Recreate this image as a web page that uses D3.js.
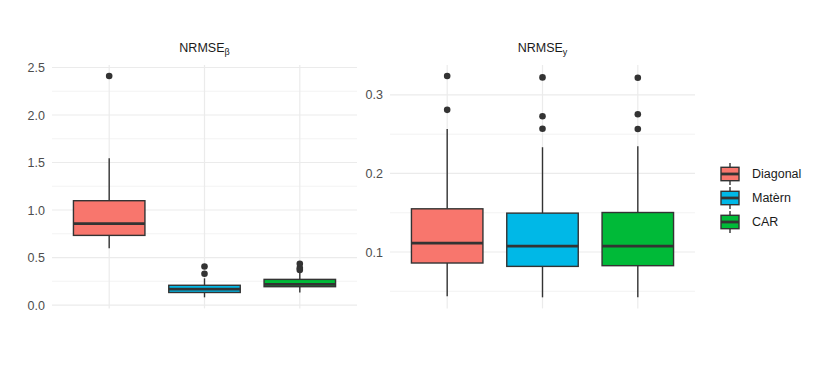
<!DOCTYPE html>
<html><head><meta charset="utf-8">
<script src="https://cdn.jsdelivr.net/npm/d3@7"></script>
<style>body{margin:0;background:#fff} text{font-family:"Liberation Sans",Arial,Helvetica,sans-serif}</style>
</head><body><svg id="c" width="817" height="368"></svg>
<script>
const categories = ["Diagonal", "Matèrn", "CAR"];
const colors = ["#F8766D", "#00B8E7", "#00BA38"];
// per category: [lower whisker, Q1, median, Q3, upper whisker]
const betaStats = [[0.597, 0.733, 0.857, 1.098, 1.544], [0.081, 0.132, 0.168, 0.208, 0.281], [0.132, 0.193, 0.217, 0.270, 0.338]];
const betaOutliers = [[2.41], [0.33, 0.405], [0.37, 0.39, 0.435]];
const yStats = [[0.0436, 0.0860, 0.1114, 0.1550, 0.2567], [0.0423, 0.0817, 0.1076, 0.1495, 0.2334], [0.0423, 0.0826, 0.1076, 0.1503, 0.2347]];
const yOutliers = [[0.281, 0.324], [0.257, 0.2728, 0.3223], [0.2567, 0.2754, 0.3219]];
const betaMajor = [0, 0.5, 1.0, 1.5, 2.0, 2.5];
const betaMinor = [0.25, 0.75, 1.25, 1.75, 2.25];
const yMajor = [0.1, 0.2, 0.3];
const yMinor = [0.05, 0.15, 0.25];

const svg = d3.select("#c");
const pTop = 65, pBottom = 308.4;
const FONT = '"Liberation Sans",Arial,Helvetica,sans-serif';

function panel(x0, x1, stats, outs, major, minor, fmt, title, sub) {
  const all = stats.flat().concat(outs.flat());
  const mn = d3.min(all), mx = d3.max(all), pad = (mx - mn) * 0.05;
  const y = d3.scaleLinear().domain([mn - pad, mx + pad]).range([pBottom, pTop]);
  const x = d3.scalePoint().domain(categories).range([x0, x1]).padding(0.6);
  const g = svg.append("g");
  // grid
  g.selectAll(".mn").data(minor).join("line").attr("x1", x0).attr("x2", x1)
    .attr("y1", d => y(d)).attr("y2", d => y(d)).attr("stroke", "#ebebeb").attr("stroke-width", 0.6);
  g.selectAll(".mj").data(major).join("line").attr("x1", x0).attr("x2", x1)
    .attr("y1", d => y(d)).attr("y2", d => y(d)).attr("stroke", "#ebebeb").attr("stroke-width", 1.2);
  g.selectAll(".vx").data(categories).join("line").attr("x1", d => x(d)).attr("x2", d => x(d))
    .attr("y1", pTop).attr("y2", pBottom).attr("stroke", "#ebebeb").attr("stroke-width", 1.2);
  // axis
  const ax = svg.append("g").attr("transform", `translate(${x0 - 7},0)`)
    .call(d3.axisLeft(y).tickValues(major).tickSize(0).tickPadding(0).tickFormat(fmt));
  ax.attr("font-family", FONT).attr("font-size", 12.5);
  ax.select(".domain").remove();
  ax.selectAll("text").attr("fill", "#4d4d4d");
  // boxes
  const bw = x.step() * 0.75;
  stats.forEach((s, i) => {
    const cx = x(categories[i]);
    const b = g.append("g");
    b.append("line").attr("x1", cx).attr("x2", cx).attr("y1", y(s[3])).attr("y2", y(s[4])).attr("stroke", "#333").attr("stroke-width", 1.4);
    b.append("line").attr("x1", cx).attr("x2", cx).attr("y1", y(s[0])).attr("y2", y(s[1])).attr("stroke", "#333").attr("stroke-width", 1.4);
    b.append("rect").attr("x", cx - bw / 2).attr("width", bw).attr("y", y(s[3])).attr("height", y(s[1]) - y(s[3]))
      .attr("fill", colors[i]).attr("stroke", "#333").attr("stroke-width", 1.4);
    b.append("line").attr("x1", cx - bw / 2).attr("x2", cx + bw / 2).attr("y1", y(s[2])).attr("y2", y(s[2])).attr("stroke", "#333").attr("stroke-width", 2.8);
    b.selectAll("circle").data(outs[i]).join("circle").attr("cx", cx).attr("cy", d => y(d)).attr("r", 3.3).attr("fill", "#333");
  });
  // title
  const t = svg.append("text").attr("x", (x0 + x1) / 2).attr("y", 52).attr("text-anchor", "middle")
    .attr("fill", "#1a1a1a").attr("font-family", FONT).attr("font-size", 12.5);
  t.append("tspan").text(title);
  t.append("tspan").attr("dy", 2.5).attr("font-size", 9).text(sub);
}

panel(52, 357, betaStats, betaOutliers, betaMajor, betaMinor, d3.format(".1f"), "NRMSE", "β");
panel(390, 695, yStats, yOutliers, yMajor, yMinor, d3.format(".1f"), "NRMSE", "y");

// legend
const leg = svg.append("g");
const ly = d3.scalePoint().domain(categories).range([174, 222]);
categories.forEach((c, i) => {
  const cy = ly(c), kx = 721, kw = 18;
  leg.append("line").attr("x1", kx + kw / 2).attr("x2", kx + kw / 2).attr("y1", cy - 11).attr("y2", cy + 11).attr("stroke", "#333").attr("stroke-width", 1.4);
  leg.append("rect").attr("x", kx).attr("y", cy - 6.7).attr("width", kw).attr("height", 13.4).attr("fill", colors[i]).attr("stroke", "#333").attr("stroke-width", 1.4);
  leg.append("line").attr("x1", kx).attr("x2", kx + kw).attr("y1", cy).attr("y2", cy).attr("stroke", "#333").attr("stroke-width", 2.8);
  leg.append("text").attr("x", 752).attr("y", cy).attr("dy", "0.35em").attr("fill", "#1a1a1a")
    .attr("font-family", FONT).attr("font-size", 12.5).text(c);
});
</script></body></html>
